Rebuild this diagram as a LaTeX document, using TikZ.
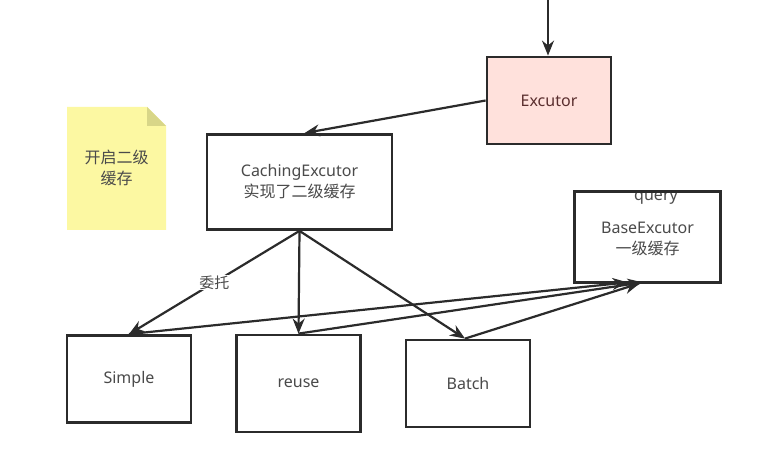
\documentclass[tikz,border=0pt]{standalone}
\usepackage{fontspec}
\setmainfont{Noto Sans}
\newfontfamily\cjk{Noto Sans CJK SC}
\usetikzlibrary{arrows.meta,calc}
\definecolor{edge}{HTML}{2B2B2B}
\definecolor{txt}{HTML}{4A4A4A}
\definecolor{pinkfill}{HTML}{FFE1DC}
\definecolor{pinktxt}{HTML}{5A2E2E}
\definecolor{notefill}{HTML}{FCF8A2}
\definecolor{notefold}{HTML}{D8D688}
\tikzset{
  box/.style={draw=edge, line width=2.8pt, fill=white, rectangle, inner sep=0pt,
    text=txt, align=center, font=\fontsize{16}{21}\selectfont},
  conn/.style={draw=edge, line width=2.2pt, -{Stealth[length=15pt,width=12pt]}},
}
\begin{document}
\begin{tikzpicture}[x=1pt,y=-1pt]
\useasboundingbox[fill=white] (0,0) rectangle (784,454);
% note
\fill[notefill] (67,107) -- (147,107) -- (166,126) -- (166,230) -- (67,230) -- cycle;
\fill[notefold] (147,107) -- (166,126) -- (147,126) -- cycle;
\node[text=txt, align=center, font=\fontsize{16}{21}\selectfont\cjk] (note) at (116.5,168) {开启二级\\缓存};
% boxes
\node[box, fill=pinkfill, text=pinktxt, minimum width=124pt, minimum height=87pt] (ex) at (549,100.5) {Excutor};
\node[box, minimum width=185pt, minimum height=95pt] (cx) at (299.5,182) {CachingExcutor\\{\cjk 实现了二级缓存}};
\node[box, draw=none, minimum width=143pt, minimum height=88pt] (bx) at (647.5,237) {};
\node[text=txt, align=center, font=\fontsize{16}{21}\selectfont] (bxt) at (647.5,239) {BaseExcutor\\{\cjk 一级缓存}};
\begin{scope}
\clip (576,193) rectangle (719,281);
\node[text=txt, font=\fontsize{16}{21}\selectfont, anchor=base] (q) at (656,201) {query};
\end{scope}
\draw[draw=edge, line width=2.8pt] (bx.north west) rectangle (bx.south east);
\node[box, minimum width=124pt, minimum height=87pt] (simple) at (129,379) {Simple};
\node[box, minimum width=124pt, minimum height=97pt] (reuse) at (298.5,383.5) {reuse};
\node[box, minimum width=124pt, minimum height=87pt] (batch) at (468,383.5) {Batch};
% connectors
\coordinate (topin) at (548,0);
\draw[conn] (topin) -- (ex.north -| topin);
\draw[conn] (ex.west) -- ($(cx.north)+(5,0)$);
\draw[conn] (cx.south) -- node[pos=0.5, fill=white, text=txt, inner sep=1pt, font=\fontsize{15}{16}\selectfont\cjk] (wt) {委托} (simple.north);
\draw[conn] (cx.south) -- (reuse.north);
\draw[conn] (cx.south) -- ($(batch.north)+(-3,0)$);
\draw[conn] (simple.north) -- ($(bx.south)+(-20,0)$);
\draw[conn] (reuse.north) -- ($(bx.south)+(-5,0)$);
\draw[conn] ($(batch.north)+(-3,0)$) -- ($(bx.south)+(-8,1)$);
\end{tikzpicture}
\end{document}
